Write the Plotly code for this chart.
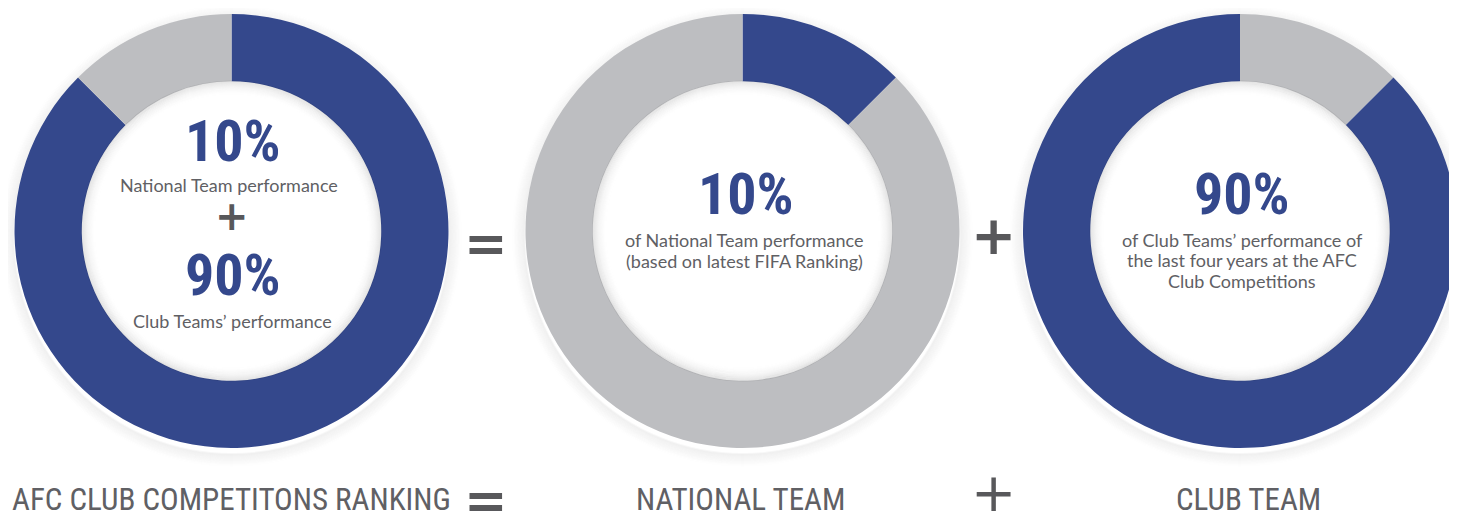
import plotly.graph_objects as go

# ---------------- data ----------------
afc_labels = ["Club Teams", "National Team"]
afc_values = [87.5, 12.5]          # drawn arc shares
national_labels = ["National Team", "Other"]
national_values = [12.5, 87.5]
club_labels = ["Other", "Club Teams"]
club_values = [12.5, 87.5]

pct_national = "10%"
pct_club = "90%"
bottom_labels = ["AFC CLUB COMPETITONS RANKING", "NATIONAL TEAM", "CLUB TEAM"]

BLUE = "#34488C"
GREY = "#BDBEC1"
TXT = "#606064"
OPS = "#58585b"

# page is 1457x513; the html body has an 8px margin, so the figure is shifted
OX, OY = 8, 8
W, H = 1457 - OX, 513 - OY
R = 217
HOLE = 0.69
centers = [(231.5, 231), (742.5, 231), (1240, 231)]

COND = ("Roboto Condensed, Noto Sans ExtraCondensed, Noto Sans Condensed, "
        "Liberation Sans Narrow, DejaVu Sans Condensed, sans-serif")
BODY = "Lato, Open Sans, sans-serif"


def px(x):
    return (x - OX) / W


def py(y):
    return 1 - (y - OY) / H


def dom(cx, cy, r):
    return dict(x=[max(0, px(cx - r)), min(1, px(cx + r))],
                y=[max(0, py(cy + r)), min(1, py(cy - r))])


fig = go.Figure()
pies = [
    (afc_labels, afc_values, [BLUE, GREY]),
    (national_labels, national_values, [BLUE, GREY]),
    (club_labels, club_values, [GREY, BLUE]),
]
for (lab, val, cols), (cx, cy) in zip(pies, centers):
    fig.add_trace(go.Pie(
        labels=lab, values=val, hole=HOLE, sort=False, direction="clockwise",
        rotation=0, marker=dict(colors=cols, line=dict(width=0)),
        textinfo="none", hoverinfo="label+percent", showlegend=False,
        domain=dom(cx, cy, R),
    ))

shapes = []
for (cx, cy) in centers:
    # outer soft drop shadow
    for k in range(1, 14):
        r = R + k
        a = 0.035 * (1 - k / 14)
        shapes.append(dict(type="circle", xref="paper", yref="paper", layer="below",
                           x0=px(cx - r), x1=px(cx + r), y0=py(cy + 5 + r), y1=py(cy + 5 - r),
                           line=dict(width=2, color=f"rgba(0,0,0,{a:.3f})")))
    # inner shadow in the hole
    rin = R * HOLE
    for k in range(0, 16):
        r = rin - k
        a = 0.075 * (1 - k / 16) ** 2
        shapes.append(dict(type="circle", xref="paper", yref="paper", layer="above",
                           x0=px(cx - r), x1=px(cx + r), y0=py(cy + r), y1=py(cy - r),
                           line=dict(width=1.5, color=f"rgba(0,0,0,{a:.3f})")))

ann = []


def add(text, x, y, size, color, family, bold=False, xanchor="center", yanchor="middle"):
    ann.append(dict(text=text, x=px(x), y=py(y), xref="paper", yref="paper",
                    showarrow=False, xanchor=xanchor, yanchor=yanchor, align="center",
                    font=dict(size=size, color=color, family=family,
                              weight="bold" if bold else "normal")))


# donut 1
add(pct_national, 233, 141, 58, BLUE, COND, bold=True)
add("National Team performance", 229, 185, 18, TXT, BODY)
add("+", 232, 216, 40, OPS, "DejaVu Sans", bold=True)
add(pct_club, 233, 275, 58, BLUE, COND, bold=True)
add("Club Teams’ performance", 232, 321, 18, TXT, BODY)

# donut 2
add(pct_national, 746, 194, 58, BLUE, COND, bold=True)
add("of National Team performance", 744, 240, 18, TXT, BODY)
add("(based on latest FIFA Ranking)", 744, 261, 18, TXT, BODY)

# donut 3
add(pct_club, 1242, 194, 58, BLUE, COND, bold=True)
add("of Club Teams’ performance of", 1242, 240, 18, TXT, BODY)
add("the last four years at the AFC", 1242, 260, 18, TXT, BODY)
add("Club Competitions", 1242, 281, 18, TXT, BODY)

# operators between donuts
add("=", 486, 243, 52, OPS, "DejaVu Sans", bold=True)
add("+", 993, 236, 54, OPS, "DejaVu Sans", bold=True)

# bottom row
add(bottom_labels[0], 10, 499, 31, TXT, COND, xanchor="left")
add("=", 486, 500, 52, OPS, "DejaVu Sans", bold=True)
add(bottom_labels[1], 740, 499, 31, TXT, COND)
add("+", 993, 492, 54, OPS, "DejaVu Sans")
add(bottom_labels[2], 1248, 499, 31, TXT, COND)

fig.update_layout(
    width=W, height=H, margin=dict(l=0, r=0, t=0, b=0),
    paper_bgcolor="white", plot_bgcolor="white",
    shapes=shapes, annotations=ann, showlegend=False,
)
fig.write_html("out.html")
